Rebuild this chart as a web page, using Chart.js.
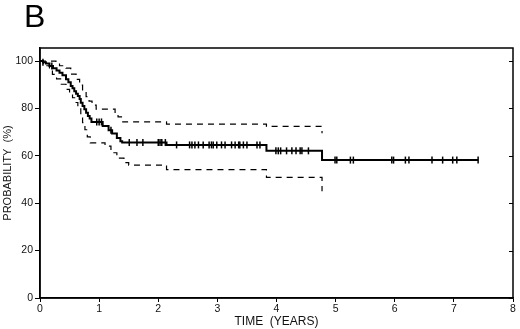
<!DOCTYPE html>
<html>
<head>
<meta charset="utf-8">
<script src="https://cdn.jsdelivr.net/npm/chart.js@4"></script>
<style>
    html, body { margin: 0; padding: 0; background: #fff; }
    #wrap { width: 520px; height: 329px; }
</style>
</head>
<body>
<div id="wrap"><canvas id="kmChart" width="520" height="329"></canvas></div>
<script>
const panelLabel = "B";
const xTitle = "TIME  (YEARS)";
const yTitle = "PROBABILITY  (%)";
const xTicks = [0, 1, 2, 3, 4, 5, 6, 7, 8];
const yTicks = [0, 20, 40, 60, 80, 100];

// Kaplan-Meier estimate (step drops at each time)
const kmTimes = [0, 0.05, 0.1, 0.16, 0.22, 0.28, 0.33, 0.38, 0.44, 0.48, 0.52, 0.55, 0.58, 0.61, 0.64, 0.67,
    0.69, 0.72, 0.75, 0.78, 0.81, 0.84, 0.87, 1.06, 1.16, 1.22, 1.3, 1.36, 1.39, 2.14, 3.83, 4.77, 7.41];
const kmSurv = [100, 99.5, 99, 97.9, 97, 96, 95.1, 94, 92.3, 91, 89.5, 88.5, 87.3, 86.2, 85.2, 84,
    82.4, 81, 79.6, 78.2, 76.8, 75.8, 74.3, 72.6, 70.8, 69.4, 67.5, 66.2, 65.6, 64.6, 62.1, 58.2, 58.2];

// confidence limits
const upperTimes = [0, 0.27, 0.33, 0.44, 0.52, 0.61, 0.67, 0.72, 0.78, 0.83, 0.88, 0.95, 1.27, 1.32, 1.4, 2.14, 3.83, 4.77];
const upperVals = [100, 99, 98, 97, 94.5, 92.3, 89.8, 87.3, 85, 83.1, 81.4, 79.7, 78, 76.4, 74.3, 73.4, 72.4, 69.5];
const lowerTimes = [0, 0.06, 0.1, 0.16, 0.21, 0.28, 0.36, 0.44, 0.5, 0.55, 0.6, 0.64, 0.69, 0.72, 0.76, 0.8,
    0.85, 1.1, 1.2, 1.3, 1.42, 1.5, 2.14, 3.83, 4.77];
const lowerVals = [100, 99, 98, 96.5, 94.4, 92.5, 90.2, 88, 86.5, 84.5, 82.5, 80.3, 77.5, 74, 71, 68,
    65.5, 64.1, 61.3, 59, 57.1, 56.1, 54.2, 50.9, 45];

// censored observations
const censorTimes = [0.05, 0.2, 0.96, 1.0, 1.04, 1.2, 1.51, 1.64, 1.74, 2.0, 2.03, 2.06, 2.12, 2.31, 2.53, 2.57,
    2.62, 2.68, 2.76, 2.86, 2.9, 2.93, 2.99, 3.07, 3.13, 3.24, 3.3, 3.36, 3.38, 3.44, 3.5, 3.67, 3.72,
    3.99, 4.03, 4.07, 4.17, 4.26, 4.33, 4.4, 4.43, 4.54, 4.99, 5.02, 5.25, 5.3, 5.95, 5.98, 6.18, 6.24,
    6.63, 6.81, 6.98, 7.05, 7.41];

const FONT = '"Liberation Sans", Arial, Helvetica, sans-serif';

function toPoints(xs, ys) {
    return xs.map((x, i) => ({ x, y: ys[i] }));
}

// survival level at time t (for placing the censor ticks on the curve)
function levelAt(t) {
    let v = kmSurv[0];
    kmTimes.forEach((kt, i) => { if (kt <= t) v = kmSurv[i]; });
    return v;
}

// box around the plot, inward ticks on the right side and the panel letter
const framePlugin = {
    id: "frame",
    afterDatasetsDraw(chart) {
        const { ctx, chartArea: a, scales } = chart;
        ctx.save();
        ctx.strokeStyle = "#000";
        ctx.lineWidth = 1.5;
        ctx.strokeRect(a.left, a.top, a.right - a.left, a.bottom - a.top);
        ctx.lineWidth = 1;
        yTicks.forEach(v => {
            const y = Math.round(scales.y.getPixelForValue(v)) + 0.5;
            ctx.beginPath();
            ctx.moveTo(a.right - 4, y);
            ctx.lineTo(a.right, y);
            ctx.stroke();
        });
        ctx.fillStyle = "#000";
        ctx.font = "32px " + FONT;
        ctx.textBaseline = "alphabetic";
        ctx.fillText(panelLabel, 24, 27);
        ctx.restore();
    }
};

const axisCommon = {
    grid: { display: true, drawOnChartArea: false, drawTicks: true, color: "#000", lineWidth: 1 },
    border: { display: true, color: "#000", width: 1.5 }
};

new Chart(document.getElementById("kmChart"), {
    type: "line",
    data: {
        datasets: [
            {
                data: toPoints(kmTimes, kmSurv),
                stepped: true,
                borderColor: "#000",
                borderWidth: 2,
                pointRadius: 0,
                fill: false
            },
            {
                data: toPoints(upperTimes, upperVals),
                stepped: true,
                borderColor: "#000",
                borderWidth: 1.2,
                borderDash: [6, 5],
                pointRadius: 0,
                fill: false
            },
            {
                data: toPoints(lowerTimes, lowerVals),
                stepped: true,
                borderColor: "#000",
                borderWidth: 1.2,
                borderDash: [6, 5],
                pointRadius: 0,
                fill: false
            },
            {
                data: censorTimes.map(t => ({ x: t, y: levelAt(t) })),
                showLine: false,
                pointStyle: "line",
                rotation: 90,
                pointRadius: 3.5,
                borderColor: "#000",
                pointBorderWidth: 1.5
            }
        ]
    },
    options: {
        responsive: false,
        animation: false,
        events: [],
        layout: { padding: { left: 0, right: 7, top: 48, bottom: 0 } },
        plugins: { legend: { display: false }, tooltip: { enabled: false } },
        scales: {
            x: {
                ...axisCommon,
                type: "linear",
                min: 0,
                max: 8,
                afterBuildTicks: s => { s.ticks = xTicks.map(v => ({ value: v })); },
                afterFit: s => { s.height = 31; },
                grid: { ...axisCommon.grid, tickLength: 4 },
                ticks: { color: "#111", font: { family: FONT, size: 10.5 }, padding: 1, maxRotation: 0, autoSkip: false },
                title: { display: true, text: xTitle, color: "#111", font: { family: FONT, size: 12 }, padding: 0 }
            },
            y: {
                ...axisCommon,
                type: "linear",
                min: 0,
                max: 105.5,
                afterBuildTicks: s => { s.ticks = yTicks.map(v => ({ value: v })); },
                afterFit: s => { s.width = 40; },
                grid: { ...axisCommon.grid, tickLength: 5 },
                ticks: { color: "#111", font: { family: FONT, size: 10.5 }, padding: 2 },
                title: { display: true, text: yTitle, color: "#111", font: { family: FONT, size: 11 }, padding: 1 }
            }
        }
    },
    plugins: [framePlugin]
});
</script>
</body>
</html>
